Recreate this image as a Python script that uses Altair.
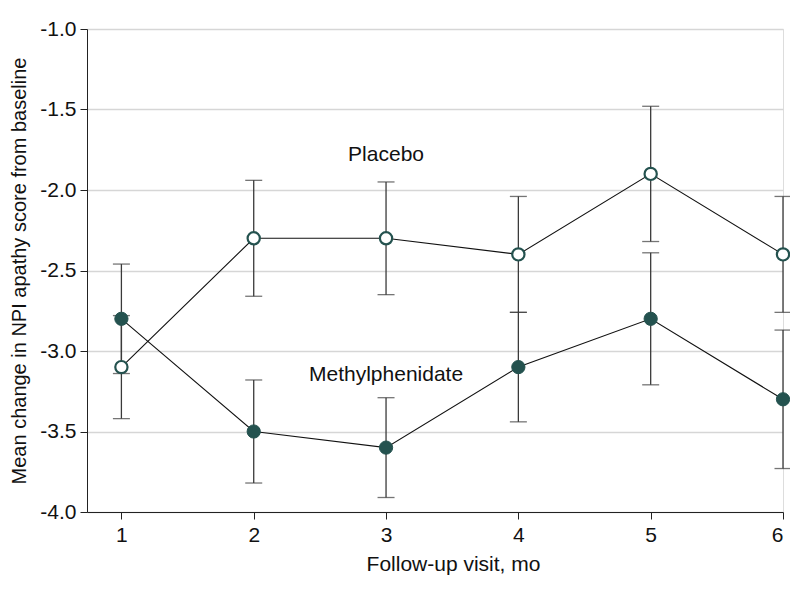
import altair as alt
import pandas as pd

visits = [1, 2, 3, 4, 5, 6]
placebo_mean = [-3.1, -2.3, -2.3, -2.4, -1.9, -2.4]
placebo_hi = [-2.78, -1.94, -1.95, -2.04, -1.48, -2.04]
placebo_lo = [-3.42, -2.66, -2.65, -2.76, -2.32, -2.76]
methyl_mean = [-2.8, -3.5, -3.6, -3.1, -2.8, -3.3]
methyl_hi = [-2.46, -3.18, -3.29, -2.76, -2.39, -2.87]
methyl_lo = [-3.14, -3.82, -3.91, -3.44, -3.21, -3.73]

rows = []
for i, v in enumerate(visits):
    rows.append({"visit": v, "group": "Placebo", "mean": placebo_mean[i], "hi": placebo_hi[i], "lo": placebo_lo[i]})
for i, v in enumerate(visits):
    rows.append({"visit": v, "group": "Methylphenidate", "mean": methyl_mean[i], "hi": methyl_hi[i], "lo": methyl_lo[i]})
df = pd.DataFrame(rows)

labels = pd.DataFrame({"visit": [3.0, 3.0], "mean": [-1.78, -3.15], "text": ["Placebo", "Methylphenidate"]})

FONT = "Liberation Sans"
TEAL = "#24524f"
YTITLE = "Mean change in NPI apathy score from baseline"
XTITLE = "Follow-up visit, mo"

xscale = alt.Scale(domain=[0.74, 6], nice=False, zero=False)
yscale = alt.Scale(domain=[-4.0, -1.0], nice=False, zero=False)

x = alt.X("visit:Q", scale=xscale,
          axis=alt.Axis(values=visits, format="d", title=XTITLE, grid=False))
y = alt.Y("mean:Q", scale=yscale,
          axis=alt.Axis(values=[-1.0, -1.5, -2.0, -2.5, -3.0, -3.5, -4.0],
                        labelExpr="replace(format(datum.value, '.1f'), '\u2212', '-')",
                        title=YTITLE, grid=True))

xs = alt.X("visit:Q", scale=xscale, title=XTITLE)
ys_mean = alt.Y("mean:Q", scale=yscale, title=YTITLE)

base = alt.Chart(df)

err = base.mark_rule(color="#3a3a3a", strokeWidth=1.3).encode(
    x=xs, y=alt.Y("lo:Q", scale=yscale, title=YTITLE), y2="hi:Q")
cap_hi = base.mark_tick(color="#3a3a3a", thickness=1.3, size=17, orient="horizontal").encode(
    x=xs, y=alt.Y("hi:Q", scale=yscale, title=YTITLE))
cap_lo = base.mark_tick(color="#3a3a3a", thickness=1.3, size=17, orient="horizontal").encode(
    x=xs, y=alt.Y("lo:Q", scale=yscale, title=YTITLE))

line = base.mark_line(color="#111", strokeWidth=1.1).encode(
    x=xs, y=ys_mean, detail="group:N")

pts_p = alt.Chart(df[df.group == "Placebo"]).mark_point(
    filled=True, fill="white", stroke=TEAL, strokeWidth=2.2, size=150, opacity=1).encode(
    x=xs, y=ys_mean)
pts_m = alt.Chart(df[df.group == "Methylphenidate"]).mark_point(
    filled=True, fill=TEAL, stroke=TEAL, strokeWidth=1, size=175, opacity=1).encode(
    x=xs, y=ys_mean)

txt = alt.Chart(labels).mark_text(font=FONT, fontSize=21, color="#111", baseline="middle").encode(
    x=xs, y=ys_mean, text="text:N")

axes = alt.Chart(df).mark_point(opacity=0).encode(x=x, y=y)

chart = alt.layer(axes, err, cap_hi, cap_lo, line, pts_p, pts_m, txt).properties(
    width=696, height=483,
    autosize=alt.AutoSizeParams(type="none"),
    padding={"left": 79, "top": 21, "right": 7, "bottom": 78},
).configure_view(stroke=None).configure(background="white").configure_axis(
    domainColor="#222", tickColor="#222", tickSize=7, labelPadding=4,
    labelFontSize=21, titleFontSize=21, labelFont=FONT, titleFont=FONT,
    labelColor="#111", titleColor="#111", titleFontWeight="normal",
    gridColor="#d6d6d6", gridWidth=1.5,
).configure_axisX(titlePadding=8, labelPadding=5, titleX=366, titleAlign="center"
).configure_axisY(titlePadding=10, titleFontSize=20)

chart.save("out.html", embed_options={"renderer": "svg", "actions": False})
